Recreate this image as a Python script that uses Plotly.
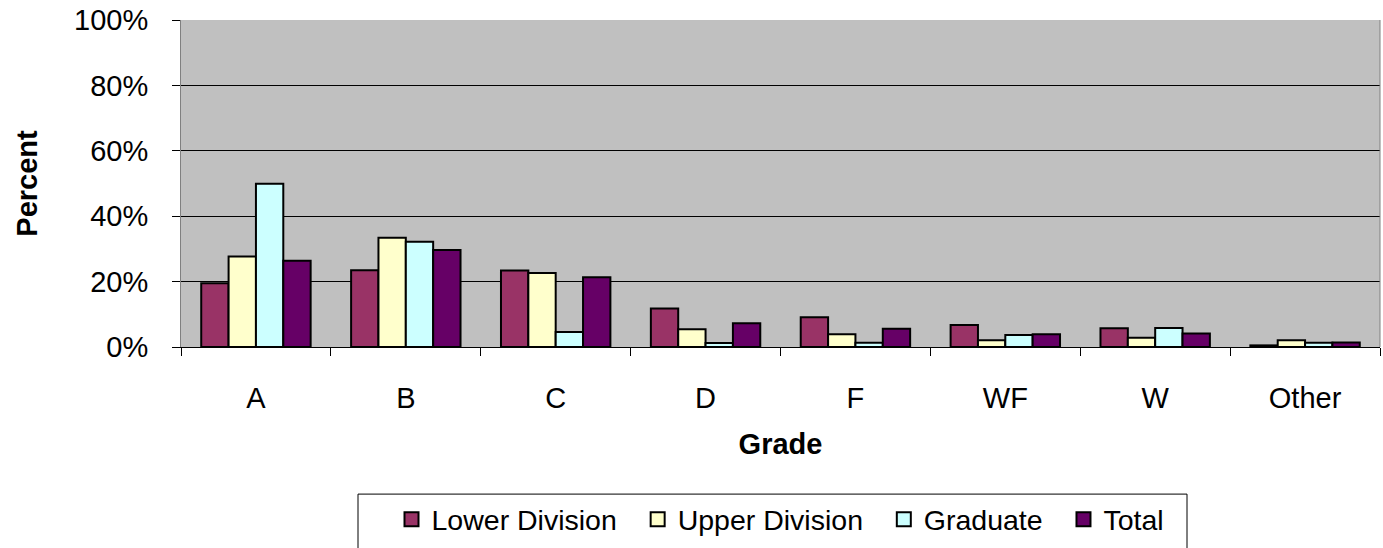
import plotly.graph_objects as go

categories = ["A", "B", "C", "D", "F", "WF", "W", "Other"]
lower_division = [19.5, 23.5, 23.4, 11.8, 9.1, 6.7, 5.7, 0.5]
upper_division = [27.7, 33.4, 22.6, 5.4, 3.9, 2.1, 2.8, 2.1]
graduate = [49.9, 32.2, 4.6, 1.2, 1.3, 3.7, 5.8, 1.3]
total = [26.4, 29.7, 21.3, 7.3, 5.6, 3.9, 4.1, 1.4]

series_names = ["Lower Division", "Upper Division", "Graduate", "Total"]
series_values = [lower_division, upper_division, graduate, total]
colors = ["#993366", "#FFFFCC", "#CCFFFF", "#660066"]

y_tick_values = [0, 20, 40, 60, 80, 100]
y_tick_labels = ["0%", "20%", "40%", "60%", "80%", "100%"]

fig = go.Figure()
for name, vals, col in zip(series_names, series_values, colors):
    fig.add_trace(go.Bar(
        x=categories, y=vals, name=name, showlegend=False,
        marker=dict(color=col, line=dict(color="black", width=2)),
    ))

# legend entries with square swatches (no data drawn)
nbsp = "\u00a0"
for i, (name, col) in enumerate(zip(series_names, colors)):
    label = name + (nbsp * 2 if i < len(series_names) - 1 else "")
    fig.add_trace(go.Scatter(
        x=[None], y=[None], mode="markers", name=label,
        marker=dict(symbol="square", size=14, color=col,
                    line=dict(color="black", width=2)),
    ))

font_family = "Liberation Sans, Arial, sans-serif"
fig.update_layout(
    width=1383, height=548,
    margin=dict(l=181, r=3, t=20, b=199),
    paper_bgcolor="white",
    plot_bgcolor="#C0C0C0",
    barmode="group",
    bargap=0.27,
    bargroupgap=0,
    font=dict(family=font_family, size=29, color="black"),
    legend=dict(
        orientation="h",
        x=0.5, xanchor="center",
        y=-0.45, yanchor="top",
        borderwidth=0,
        font=dict(size=28.5),
        bgcolor="rgba(0,0,0,0)",
        itemwidth=30,
        tracegroupgap=0,
    ),
    showlegend=True,
)
# legend frame
fig.add_shape(type="rect", xref="paper", yref="paper",
              x0=(358 - 181) / 1199, x1=(1187 - 181) / 1199,
              y0=(349 - 560) / 329, y1=(349 - 497) / 329,
              line=dict(color="black", width=1), fillcolor="white", layer="below")
fig.update_xaxes(
    title=dict(text="<b>Grade</b>", font=dict(size=29), standoff=20),
    showline=True, linecolor="black", linewidth=1,
    ticks="outside", ticklen=8, tickcolor="black",
    tickson="boundaries",
    ticklabelstandoff=25,
    showgrid=False,
)
fig.update_yaxes(
    title=dict(text="<b>Percent</b>", font=dict(size=29), standoff=27),
    range=[0, 100],
    tickvals=y_tick_values,
    ticktext=y_tick_labels,
    ticks="outside", ticklen=8, tickcolor="black",
    ticklabelstandoff=18,
    showgrid=True, gridcolor="black", gridwidth=1,
    showline=True, linecolor="#808080", linewidth=1,
    zeroline=False,
)
fig.add_shape(type="line", xref="paper", yref="paper", x0=1, x1=1, y0=0, y1=1,
              line=dict(color="#808080", width=1))

fig.write_html("out.html", config={"displayModeBar": False},
               post_script="document.body.style.margin='0';")
